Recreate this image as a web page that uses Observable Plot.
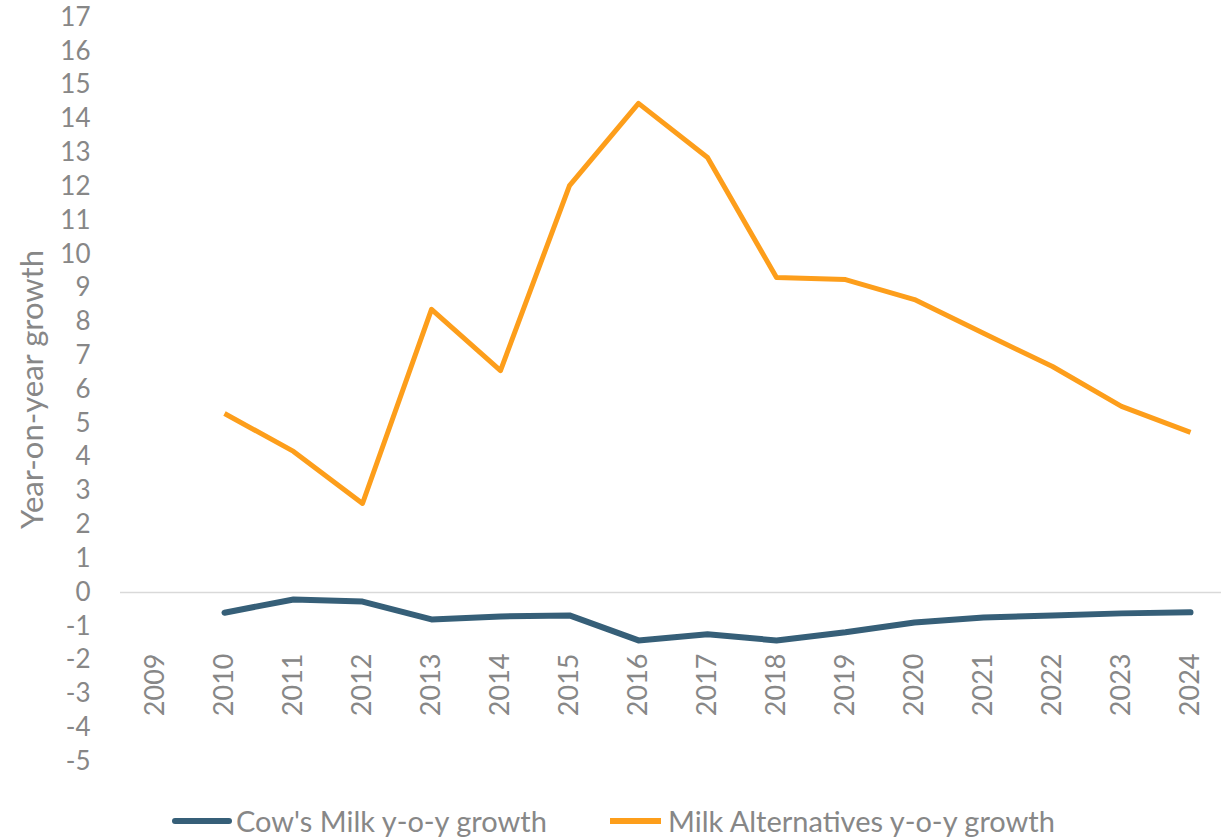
<!DOCTYPE html>
<html>
<head>
<meta charset="utf-8">
<script src="https://cdn.jsdelivr.net/npm/d3@7"></script>
<script src="https://cdn.jsdelivr.net/npm/@observablehq/plot@0.6"></script>
<style>
  html, body { margin: 0; padding: 0; background: #fff; }
  #wrap { position: relative; width: 1221px; height: 838px; font-family: Lato, "Open Sans", sans-serif; }
  .leg { position: absolute; top: 803px; display: flex; align-items: center; font-size: 29px; color: #878787; white-space: nowrap; }
  .leg svg { display: block; }
</style>
</head>
<body>
<div id="wrap">
  <div id="chart"></div>
  <div class="leg" id="leg1" style="left:170px"></div>
  <div class="leg" id="leg2" style="left:605px"></div>
</div>
<script>
const years = [2009, 2010, 2011, 2012, 2013, 2014, 2015, 2016, 2017, 2018, 2019, 2020, 2021, 2022, 2023, 2024];
const cowYears = [2010, 2011, 2012, 2013, 2014, 2015, 2016, 2017, 2018, 2019, 2020, 2021, 2022, 2023, 2024];
const cowMilk = [-0.6, -0.21, -0.27, -0.8, -0.71, -0.68, -1.42, -1.24, -1.42, -1.18, -0.89, -0.74, -0.68, -0.62, -0.59];
const milkAlt = [5.29, 4.17, 2.63, 8.37, 6.56, 12.03, 14.46, 12.86, 9.31, 9.25, 8.66, 7.66, 6.68, 5.5, 4.73];
const yTicks = d3.range(-5, 18);
const seriesNames = ["Cow's Milk y-o-y growth", "Milk Alternatives y-o-y growth"];
const seriesColors = ["#365f78", "#fd9e1b"];
const yLabel = "Year-on-year growth";

const cowData = cowYears.map((y, i) => ({year: y, value: cowMilk[i]}));
const altData = cowYears.map((y, i) => ({year: y, value: milkAlt[i]}));

const chart = Plot.plot({
  width: 1221,
  height: 790,
  marginTop: 17,
  marginBottom: 29,
  marginLeft: 120,
  marginRight: -3,
  style: {fontFamily: "Lato, 'Open Sans', sans-serif", background: "#fff"},
  x: {type: "point", domain: years, padding: 0.5},
  y: {domain: [-5, 17]},
  marks: [
    Plot.ruleY([0], {stroke: "#d9d9d9", strokeWidth: 1.5}),
    Plot.axisY({ticks: yTicks, tickSize: 0, tickPadding: 30, tickFormat: d => String(d), fontSize: 26, fill: "#878787", label: null}),
    Plot.axisX({ticks: years, tickSize: 0, tickPadding: 0, tickRotate: -90, dy: -108, fontSize: 27, fill: "#878787", label: null, tickFormat: d => String(d)}),
    Plot.text([yLabel], {frameAnchor: "left", textAnchor: "middle", rotate: -90, dx: -87, fontSize: 31, fill: "#878787"}),
    Plot.lineY(altData, {x: "year", y: "value", stroke: seriesColors[1], strokeWidth: 5, strokeLinejoin: "round", strokeLinecap: "butt"}),
    Plot.lineY(cowData, {x: "year", y: "value", stroke: seriesColors[0], strokeWidth: 6, strokeLinejoin: "round", strokeLinecap: "round"})
  ]
});
document.getElementById("chart").appendChild(chart);

function legendItem(el, name, color, cap, w) {
  el.innerHTML = `<svg width="${w + 12}" height="12"><line x1="5" x2="${w + 5}" y1="6" y2="6" stroke="${color}" stroke-width="6" stroke-linecap="${cap}"/></svg><span style="margin-left:0px">${name}</span>`;
}
legendItem(document.getElementById("leg1"), seriesNames[0], seriesColors[0], "round", 54);
legendItem(document.getElementById("leg2"), seriesNames[1], seriesColors[1], "butt", 51);
</script>
</body>
</html>
